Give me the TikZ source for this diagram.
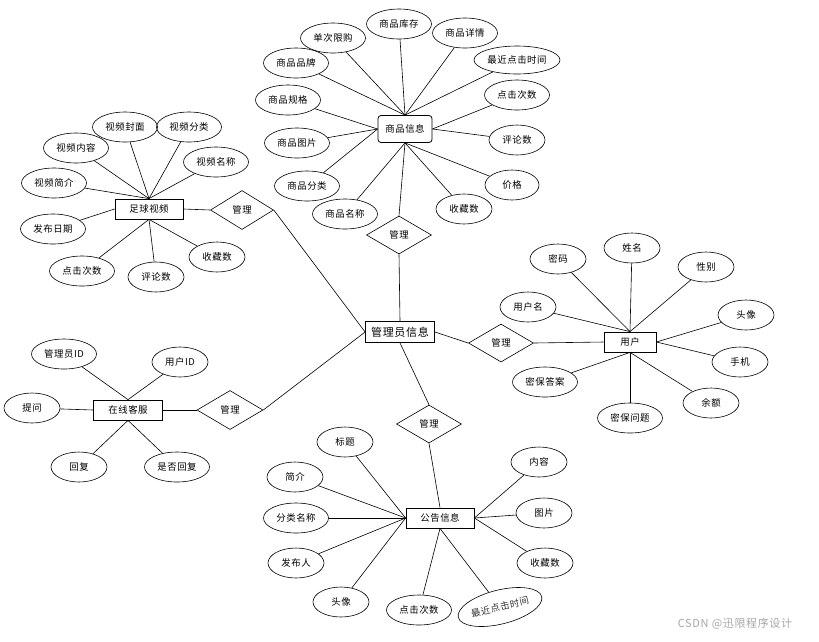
\documentclass[tikz,border=0pt]{standalone}
\usepackage{fontspec}
\setmainfont{Noto Sans CJK SC}[LetterSpace=6]
\usetikzlibrary{shapes.geometric}
\tikzset{
  attr/.style={ellipse,draw,line width=0.6pt,minimum width=56,minimum height=30,inner sep=0pt,font=\fontsize{9.4}{10}\selectfont},
  wattr/.style={attr,minimum width=65},
  ent/.style={rectangle,draw,line width=0.8pt,minimum width=68,minimum height=20,inner sep=0pt,font=\fontsize{9.4}{10}\selectfont},
  rel/.style={diamond,draw,line width=0.6pt,minimum width=65,minimum height=38,inner sep=0pt,font=\fontsize{9.4}{10}\selectfont},
  lnk/.style={line width=0.6pt}
}
\begin{document}
\begin{tikzpicture}[x=1pt,y=-1pt]
\useasboundingbox (0,0) rectangle (819,641);
% merkez
\node[ent,minimum width=69,minimum height=21,font=\fontsize{11}{12}\selectfont] (gly) at (400,332) {管理员信息};
% shangpin
\node[ent,rounded corners=3pt,minimum width=54,minimum height=27] (sp) at (405,129) {商品信息};
\node[wattr] (spkc) at (399,24) {商品库存};
\node[wattr] (spxg) at (333,38) {单次限购};
\node[wattr] (spxq) at (465,33) {商品详情};
\node[wattr] (sppp) at (296,63) {商品品牌};
\node[attr,minimum width=86,minimum height=28] (spsj) at (517,60) {最近点击时间};
\node[wattr] (spgg) at (288,100) {商品规格};
\node[wattr] (spdj) at (517,95) {点击次数};
\node[wattr] (sptp) at (297,143) {商品图片};
\node[attr] (sppl) at (517,140) {评论数};
\node[wattr] (spfl) at (307,186) {商品分类};
\node[attr,minimum width=54] (spjg) at (512,185) {价格};
\node[wattr] (spmc) at (345,214) {商品名称};
\node[attr] (spsc) at (464,209) {收藏数};
\node[rel] (r1) at (399,235) {管理};
\foreach \a/\p in {spkc/north,spxg/north,spxq/north,sppp/north,spsj/north,
  spgg/west,sptp/west,spfl/west,spdj/east,sppl/east,spmc/south,spsc/south,spjg/south}
  \draw[lnk] (\a) -- (sp.\p);
\draw[lnk] (sp.south) -- (r1.north);
\draw[lnk] (r1.south) -- (gly.north);
% yonghu
\node[ent,minimum width=52] (yh) at (630,342) {用户};
\node[attr] (yhmm) at (558,259) {密码};
\node[attr] (yhxm) at (632,248) {姓名};
\node[attr] (yhxb) at (706,267) {性别};
\node[attr] (yhm) at (528,307) {用户名};
\node[attr] (yhtx) at (746,315) {头像};
\node[attr] (yhsj) at (740,362) {手机};
\node[wattr] (yhda) at (545,382) {密保答案};
\node[attr] (yhye) at (711,403) {余额};
\node[wattr] (yhwt) at (630,418) {密保问题};
\node[rel] (r2) at (501,343) {管理};
\foreach \a/\p in {yhmm/north,yhxm/north,yhxb/north,yhm/north,
  yhtx/east,yhsj/east,yhda/south,yhye/south,yhwt/south}
  \draw[lnk] (\a) -- (yh.\p);
\draw[lnk] (gly.east) -- (r2.west);
\draw[lnk] (r2.east) -- (yh.west);
% zuqiu shipin
\node[ent] (zq) at (149,209) {足球视频};
\node[wattr] (zqfm) at (125,127) {视频封面};
\node[wattr] (zqfl) at (189,127) {视频分类};
\node[wattr] (zqnr) at (76,148) {视频内容};
\node[wattr] (zqmc) at (216,162) {视频名称};
\node[wattr] (zqjj) at (54,183) {视频简介};
\node[wattr] (zqrq) at (53,229) {发布日期};
\node[wattr] (zqdj) at (82,271) {点击次数};
\node[attr] (zqpl) at (156,277) {评论数};
\node[attr] (zqsc) at (217,257) {收藏数};
\node[rel,minimum width=63,minimum height=39] (r3) at (242,210) {管理};
\foreach \a/\p in {zqfm/north,zqfl/north,zqnr/north,zqmc/north,zqjj/north,
  zqrq/west,zqdj/south,zqpl/south,zqsc/south}
  \draw[lnk] (\a) -- (zq.\p);
\draw[lnk] (zq.east) -- (r3.west);
\draw[lnk] (r3.east) -- (gly.west);
% zaixian kefu
\node[ent,minimum width=69] (kf) at (128,410) {在线客服};
\node[wattr] (kfgl) at (64,354) {管理员ID};
\node[attr] (kfyh) at (180,362) {用户ID};
\node[attr] (kftw) at (32,408) {提问};
\node[attr] (kfhf) at (79,467) {回复};
\node[wattr] (kfsf) at (177,467) {是否回复};
\node[rel,minimum width=66,minimum height=39] (r4) at (230,410) {管理};
\foreach \a/\p in {kfgl/north,kfyh/north,kftw/west,kfhf/south,kfsf/south}
  \draw[lnk] (\a) -- (kf.\p);
\draw[lnk] (kf.east) -- (r4.west);
\draw[lnk] (r4.east) -- (gly.west);
% gonggao xinxi
\node[ent] (gg) at (440,518) {公告信息};
\node[attr] (ggbt) at (345,442) {标题};
\node[attr] (ggjj) at (295,477) {简介};
\node[wattr] (ggfl) at (296,518) {分类名称};
\node[attr] (ggfb) at (296,563) {发布人};
\node[attr] (ggtx) at (341,602) {头像};
\node[wattr] (ggdj) at (419,610) {点击次数};
\node[attr,rotate=14,minimum width=86,minimum height=34,text=black!80] (ggsj) at (500,607) {最近点击时间};
\node[attr] (ggnr) at (539,462) {内容};
\node[attr] (ggtp) at (544,513) {图片};
\node[attr] (ggsc) at (545,563) {收藏数};
\node[rel] (r5) at (429,424) {管理};
\foreach \a/\p in {ggbt/west,ggjj/west,ggfl/west,ggfb/west,ggtx/west,
  ggdj/south,ggsj/south,ggnr/east,ggtp/east,ggsc/east}
  \draw[lnk] (\a) -- (gg.\p);
\draw[lnk] (gly.south) -- (r5.north);
\draw[lnk] (r5.south) -- (gg.north);
% su isareti
\node[text=black!35,font=\fontsize{11}{12}\selectfont] (wm) at (735,624) {CSDN @迅限程序设计};
\end{tikzpicture}
\end{document}
